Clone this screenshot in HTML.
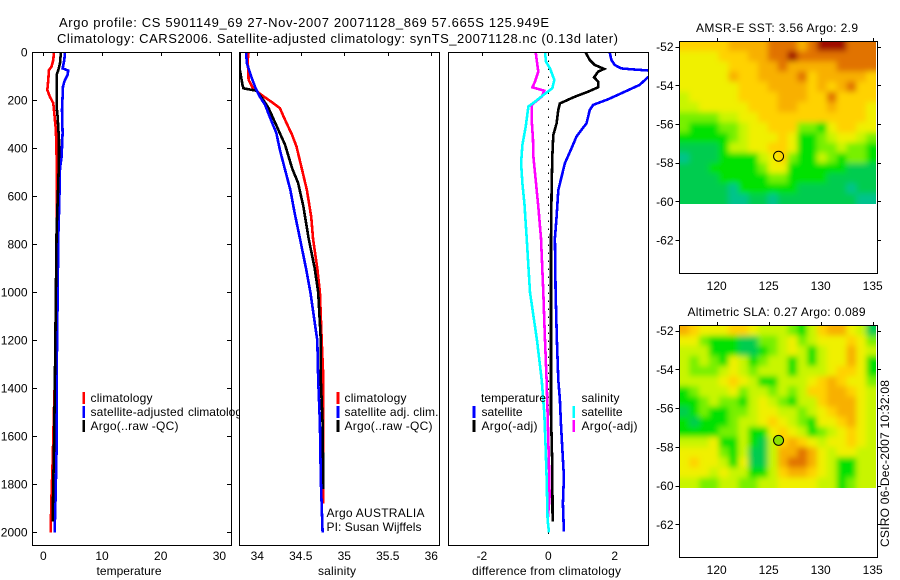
<!DOCTYPE html>
<html lang="en">
<head>
<meta charset="utf-8">
<title>Argo profile CS 5901149_69</title>
<style>
html,body{margin:0;padding:0;background:#fff;width:900px;height:580px;overflow:hidden}
svg{display:block}
text{font-family:"Liberation Sans",sans-serif;font-size:12px;fill:#000}
.frame{fill:none;stroke:#000;stroke-width:1;shape-rendering:crispEdges}
.tick{stroke:#000;stroke-width:1;shape-rendering:crispEdges}
.series{fill:none;stroke-width:2.6;stroke-linejoin:miter;shape-rendering:crispEdges}
.key{stroke-width:2.6;shape-rendering:crispEdges}
</style>
</head>
<body>
<svg id="chart" width="900" height="580" viewBox="0 0 900 580" xmlns="http://www.w3.org/2000/svg">
  <defs>
    <clipPath id="clip-temp"><rect x="33" y="53" width="198" height="492"/></clipPath>
    <clipPath id="clip-sal"><rect x="240" y="53" width="199" height="492"/></clipPath>
    <clipPath id="clip-diff"><rect x="449" y="53" width="199" height="492"/></clipPath>
    <clipPath id="clip-legend"><rect x="80" y="385" width="160" height="60"/></clipPath>
    <clipPath id="clip-sst"><rect x="679" y="41" width="197" height="163"/></clipPath>
    <clipPath id="clip-sla"><rect x="679" y="325" width="197" height="163"/></clipPath>
    <filter id="soften" x="-5%" y="-5%" width="110%" height="110%"><feGaussianBlur stdDeviation="3"/></filter>
  </defs>

  <text x="59" y="27" font-size="13" style="font-size:13px" textLength="490" lengthAdjust="spacing">Argo profile: CS 5901149_69 27-Nov-2007 20071128_869 57.665S 125.949E</text>
  <text x="57" y="43" style="font-size:13px" textLength="561" lengthAdjust="spacing">Climatology: CARS2006. Satellite-adjusted climatology: synTS_20071128.nc (0.13d later)</text>

  <g id="temp-panel"></g>
  <g id="sal-panel"></g>
  <g id="diff-panel"></g>

  <text x="129" y="575" text-anchor="middle" textLength="65" lengthAdjust="spacing">temperature</text>
  <text x="337" y="575" text-anchor="middle" textLength="38" lengthAdjust="spacing">salinity</text>
  <text x="546.5" y="575" text-anchor="middle" textLength="149" lengthAdjust="spacing">difference from climatology</text>

  <g clip-path="url(#clip-legend)">
    <line class="key" x1="83.7" x2="83.7" y1="392" y2="404" stroke="#f00"/>
    <text x="90.5" y="402" textLength="62" lengthAdjust="spacing">climatology</text>
    <line class="key" x1="83.7" x2="83.7" y1="406" y2="418" stroke="#00f"/>
    <text y="416"><tspan x="90.5" textLength="93" lengthAdjust="spacing">satellite-adjusted</tspan> <tspan x="188" textLength="60" lengthAdjust="spacing">climatology</tspan></text>
    <line class="key" x1="83.7" x2="83.7" y1="420" y2="432" stroke="#000"/>
    <text x="90.5" y="430" textLength="88" lengthAdjust="spacing">Argo(..raw -QC)</text>
  </g>

  <g>
    <line class="key" x1="338" x2="338" y1="392" y2="404" stroke="#f00"/>
    <text x="344.5" y="402" textLength="62" lengthAdjust="spacing">climatology</text>
    <line class="key" x1="338" x2="338" y1="406" y2="418" stroke="#00f"/>
    <text x="344.5" y="416" textLength="94" lengthAdjust="spacing">satellite adj. clim.</text>
    <line class="key" x1="338" x2="338" y1="420" y2="432" stroke="#000"/>
    <text x="344.5" y="430" textLength="88" lengthAdjust="spacing">Argo(..raw -QC)</text>
    <text x="326.5" y="517" textLength="98" lengthAdjust="spacing">Argo AUSTRALIA</text>
    <text x="326.5" y="531" textLength="95" lengthAdjust="spacing">PI: Susan Wijffels</text>
  </g>

  <g>
    <text x="481" y="402" textLength="65" lengthAdjust="spacing">temperature</text>
    <line class="key" x1="474" x2="474" y1="406" y2="418" stroke="#00f"/>
    <text x="481.5" y="416" textLength="41" lengthAdjust="spacing">satellite</text>
    <line class="key" x1="474" x2="474" y1="420" y2="432" stroke="#000"/>
    <text x="481.5" y="430" textLength="56" lengthAdjust="spacing">Argo(-adj)</text>
    <text x="581.5" y="402" textLength="38" lengthAdjust="spacing">salinity</text>
    <line class="key" x1="573.7" x2="573.7" y1="406" y2="418" stroke="#0ff"/>
    <text x="581.5" y="416" textLength="41" lengthAdjust="spacing">satellite</text>
    <line class="key" x1="573.7" x2="573.7" y1="420" y2="432" stroke="#f0f"/>
    <text x="581.5" y="430" textLength="56" lengthAdjust="spacing">Argo(-adj)</text>
  </g>

  <text x="696" y="32" textLength="162" lengthAdjust="spacing">AMSR-E SST: 3.56 Argo: 2.9</text>
  <text x="687.5" y="316" textLength="178" lengthAdjust="spacing">Altimetric SLA: 0.27 Argo: 0.089</text>
  <g id="sst-map"></g>
  <g id="sla-map"></g>

  <text transform="translate(889,547) rotate(-90)" x="0" y="0" textLength="167" lengthAdjust="spacing">CSIRO 06-Dec-2007 10:32:08</text>
</svg>

<script>
// ---- axis tick labels ----
const depthTicks = [0, 200, 400, 600, 800, 1000, 1200, 1400, 1600, 1800, 2000];
const tempTicks = [0, 10, 20, 30];
const salTicks = [34, 34.5, 35, 35.5, 36];
const diffTicks = [-2, 0, 2];
const lonTicks = [120, 125, 130, 135];
const latTicks = [-52, -54, -56, -58, -60, -62];

// ---- temperature panel ----
const tempClimDepth = [0, 32, 60, 74, 115, 157, 185, 212, 268, 324, 435, 740, 1000, 1200, 1400, 1500, 1700, 1850, 2000];
const tempClimValue = [1.8, 1.7, 1.4, 0.96, 0.85, 0.68, 1.13, 1.7, 1.93, 2.15, 2.27, 2.27, 2.2, 2.1, 1.93, 1.8, 1.6, 1.4, 1.25];
const tempSatDepth = [0, 32, 67, 76, 94, 122, 143, 240, 337, 435, 483, 629, 768, 1000, 1365, 1650, 1850, 2000];
const tempSatValue = [3.7, 3.57, 3.29, 4.25, 4.14, 3.57, 3.35, 3.18, 3.29, 3.12, 2.84, 2.72, 2.55, 2.45, 2.27, 2.27, 2.1, 1.93];
const tempArgoDepth = [0, 46, 74, 94, 226, 268, 365, 435, 546, 740, 1000, 1365, 1685, 1780, 1955];
const tempArgoValue = [3.0, 2.84, 2.55, 2.27, 2.27, 2.44, 2.67, 2.67, 2.55, 2.27, 2.15, 1.98, 1.8, 1.7, 1.6];

// ---- salinity panel ----
const salClimDepth = [0, 32, 115, 150, 178, 206, 233, 282, 344, 393, 483, 574, 685, 775, 900, 1000, 1200, 1365, 1880];
const salClimValue = [33.9, 33.89, 33.9, 33.95, 34.05, 34.16, 34.26, 34.32, 34.4, 34.45, 34.51, 34.57, 34.62, 34.64, 34.69, 34.72, 34.74, 34.76, 34.76];
const salSatDepth = [0, 46, 101, 150, 185, 219, 275, 337, 407, 490, 574, 671, 775, 900, 1000, 1200, 1365, 1545, 1780, 2000];
const salSatValue = [33.87, 33.88, 33.93, 33.98, 34.03, 34.09, 34.15, 34.22, 34.26, 34.32, 34.38, 34.43, 34.49, 34.56, 34.61, 34.69, 34.7, 34.72, 34.73, 34.75];
const salArgoDepth = [0, 74, 136, 150, 154, 160, 199, 233, 289, 386, 483, 546, 643, 775, 900, 1000, 1200, 1365, 1545, 1820];
const salArgoValue = [33.8, 33.8, 33.83, 33.84, 33.9, 33.99, 34.07, 34.13, 34.2, 34.32, 34.4, 34.47, 34.53, 34.59, 34.66, 34.7, 34.73, 34.73, 34.75, 34.76];

// ---- difference panel ----
const diffTempSatDepth = [0, 32, 53, 67, 71, 76, 88, 104, 136, 171, 196, 219, 240, 296, 351, 400, 462, 518, 574, 685, 775, 1000, 1200, 1365, 1448, 1545, 1643, 1768, 1880, 1997];
const diffTempSatValue = [1.85, 1.9, 2.0, 2.2, 2.5, 3.0, 3.3, 3.0, 2.75, 2.2, 1.8, 1.35, 1.25, 1.15, 0.85, 0.7, 0.5, 0.4, 0.3, 0.25, 0.2, 0.22, 0.26, 0.3, 0.35, 0.38, 0.42, 0.47, 0.44, 0.47];
const diffTempArgoDepth = [0, 32, 53, 69, 81, 104, 122, 146, 164, 185, 213, 240, 296, 344, 435, 574, 775, 1365, 1504, 1726, 1955];
const diffTempArgoValue = [1.12, 1.25, 1.4, 1.68, 1.5, 1.38, 1.5, 1.5, 1.2, 0.8, 0.35, 0.3, 0.25, 0.15, 0.12, 0.1, 0.08, 0.08, 0.08, 0.12, 0.13];
const diffSalArgoDepth = [0, 32, 81, 122, 146, 160, 185, 219, 282, 365, 435, 532, 643, 775, 1000, 1200, 1365, 1504, 1726, 1850, 1955];
const diffSalArgoValue = [-0.38, -0.35, -0.3, -0.4, -0.48, -0.12, -0.2, -0.5, -0.5, -0.46, -0.45, -0.38, -0.3, -0.22, -0.15, -0.1, -0.05, -0.02, 0.02, 0.04, -0.02];
const diffSalSatDepth = [0, 39, 67, 115, 150, 178, 206, 226, 310, 386, 462, 546, 629, 775, 1000, 1200, 1365, 1504, 1643, 1768, 1948, 2000];
const diffSalSatValue = [-0.1, -0.07, 0.05, 0.18, 0.12, -0.15, -0.4, -0.6, -0.68, -0.78, -0.82, -0.78, -0.72, -0.65, -0.55, -0.34, -0.2, -0.12, -0.08, -0.05, -0.02, 0.02];

// ---- satellite maps (colour levels 0 = coolest .. 9 = warmest) ----
const mapColors = ["#00c38c", "#00cc50", "#00e100", "#78f000", "#c8f500", "#f0f000", "#ffd200", "#f8b000", "#e17300", "#a00a00"];
const argoLon = 125.949;
const argoLat = -57.665;
const sstGrid = [
  [6,6,6,6,6,7,7,7,7,8,8,8,7,8,9,9,9,8,8,8],
  [5,5,5,5,6,6,6,7,7,8,8,9,8,8,8,8,8,8,8,8],
  [5,5,5,5,5,6,6,6,7,7,8,7,7,7,7,7,8,8,8,8],
  [5,5,5,5,5,7,6,6,7,7,7,7,8,6,7,7,7,7,7,6],
  [5,5,5,5,5,5,6,6,6,7,7,7,7,6,7,6,7,8,6,6],
  [4,5,5,5,5,5,6,6,6,6,7,7,7,6,6,8,6,6,6,6],
  [4,4,5,5,5,5,5,6,6,6,7,7,6,6,6,7,6,6,6,5],
  [3,3,3,3,4,4,5,5,6,6,6,6,6,6,6,6,6,6,6,5],
  [3,2,2,2,3,3,4,5,5,6,6,6,3,3,2,5,6,6,5,5],
  [2,2,2,2,2,3,4,5,5,5,6,5,2,2,3,4,5,5,4,3],
  [1,1,1,1,2,4,4,5,5,6,6,5,2,2,3,3,4,3,3,2],
  [0,1,1,1,2,2,2,2,4,5,6,3,2,2,4,3,2,3,3,2],
  [1,1,1,2,2,2,2,2,3,5,5,2,2,2,2,2,2,1,1,1],
  [1,1,1,1,2,2,2,2,2,3,3,2,2,2,2,1,1,1,1,1],
  [1,1,1,1,1,0,2,2,2,2,2,2,1,1,1,1,1,0,1,1],
  [1,1,1,1,1,0,0,1,1,0,1,1,1,1,1,1,1,1,0,0]
];
const slaGrid = [
  [7,6,5,5,5,6,6,5,4,4,4,3,2,4,6,7,7,5,4,1],
  [5,5,3,2,2,2,1,1,3,3,4,5,3,4,5,5,5,6,5,3],
  [4,4,4,2,2,2,1,1,2,3,4,5,4,2,4,5,5,7,5,4],
  [4,3,4,3,2,5,4,2,3,4,4,2,4,2,4,5,5,7,5,2],
  [4,3,3,3,4,5,4,3,4,4,4,2,4,4,4,5,6,6,5,2],
  [4,4,4,4,5,6,5,4,2,2,4,4,4,5,6,7,6,5,5,3],
  [2,3,4,4,4,5,3,4,4,3,4,3,4,6,6,7,7,6,5,4],
  [2,2,3,4,3,3,2,4,5,4,3,2,4,4,6,7,7,7,5,4],
  [1,2,3,2,2,3,3,4,5,5,4,4,3,4,5,6,7,7,5,4],
  [2,1,2,2,2,3,4,4,5,6,5,4,3,2,5,5,6,7,5,4],
  [2,2,2,2,3,3,4,2,2,5,6,5,4,2,3,4,5,6,5,4],
  [4,4,4,5,2,2,4,2,1,4,6,7,6,5,4,5,5,6,5,4],
  [5,5,5,5,3,2,4,1,1,4,7,7,8,7,5,4,5,5,4,4],
  [5,6,5,5,4,2,5,1,1,4,7,8,8,7,5,4,2,2,4,4],
  [5,5,5,4,5,4,4,2,2,4,6,7,7,6,5,4,2,2,4,4],
  [4,4,3,3,4,4,3,3,4,4,5,5,5,5,4,4,2,3,4,4]
];

// ---- axis functions ----
const SVGNS = "http://www.w3.org/2000/svg";
const PANEL_TOP = 52.5;
const PANEL_BOTTOM = 545.5;
function depthY(d) { return 52.3 + d * 0.24; }
function tempX(v) { return 43.3 + v * 5.87; }
function salX(v) { return 257.3 + (v - 34) * 87; }
function diffX(v) { return 548.3 + v * 33.2; }
function lonX(v) { return 716.7 + (v - 120) * 10.4; }
function sstLatY(v) { return 46.7 + (-52 - v) * 19.33; }
function slaLatY(v) { return 330.7 + (-52 - v) * 19.36; }

function svgEl(tag, attrs, parent) {
  const el = document.createElementNS(SVGNS, tag);
  for (const k in attrs) el.setAttribute(k, attrs[k]);
  parent.appendChild(el);
  return el;
}

function drawLabel(parent, x, y, label, anchor, name) {
  const t = svgEl("text", { x: x, y: y, "text-anchor": anchor }, parent);
  
  
  t.textContent = label;
}

function drawTick(parent, x1, y1, x2, y2, name) {
  const l = svgEl("line", { class: "tick", x1: x1, y1: y1, x2: x2, y2: y2 }, parent);
  
  
}

function drawSeries(parent, depths, values, xFn, color, clipId, name) {
  const pts = depths.map(function (d, i) { return xFn(values[i]).toFixed(1) + "," + depthY(d).toFixed(1); }).join(" ");
  const p = svgEl("polyline", { class: "series", points: pts, stroke: color, "clip-path": "url(#" + clipId + ")" }, parent);
  
  
}

function drawFrame(parent, left, right, top, bottom, name) {
  const r = svgEl("rect", { class: "frame", x: left, y: top, width: right - left, height: bottom - top }, parent);
  
  
}

function drawProfileAxes(parent, left, right, ticks, xFn, sideTicks) {
  drawFrame(parent, left, right, PANEL_TOP, PANEL_BOTTOM, "plot-frame");
  ticks.forEach(function (v) {
    const x = Math.round(xFn(v)) + 0.5;
    drawTick(parent, x, PANEL_TOP, x, PANEL_TOP + 3.5, "x-tick-top");
    drawLabel(parent, xFn(v), 560, String(v), "middle", "x-tick-label");
  });
  if (sideTicks) {
    depthTicks.forEach(function (d) {
      const y = Math.round(depthY(d)) + 0.5;
      drawTick(parent, left, y, left + 4.5, y, "y-tick-left");
      drawTick(parent, right - 4.5, y, right, y, "y-tick-right");
      drawLabel(parent, 27.5, depthY(d) + 4, String(d), "end", "y-tick-label");
    });
  }
}

function drawMap(root, grid, top, rows, latY, clipId, frameTop, frameBottom, dotFill, labelY) {
  const left = 679.3, right = 876;
  const nRows = grid.length, nCols = grid[0].length;
  const cw = (right - left) / nCols, ch = rows / nRows;
  const heat = svgEl("g", { "clip-path": "url(#" + clipId + ")" }, root);
  
  
  const cells = svgEl("g", { filter: "url(#soften)" }, heat);
  
  
  grid.forEach(function (row, r) {
    row.forEach(function (level, c) {
      // edge cells bleed outward so softening does not fade at the clip edge
      const x0 = left + c * cw - (c === 0 ? 14 : 0);
      const x1 = left + (c + 1) * cw + (c === nCols - 1 ? 14 : 0.5);
      const y0 = top + r * ch - (r === 0 ? 14 : 0);
      const y1 = top + (r + 1) * ch + (r === nRows - 1 ? 14 : 0.5);
      const cell = svgEl("rect", { x: x0, y: y0, width: x1 - x0, height: y1 - y0, fill: mapColors[level] }, cells);
      
      
    });
  });
  drawFrame(root, 679.5, 877.5, frameTop, frameBottom, "map-frame");
  lonTicks.forEach(function (lon) {
    const x = Math.round(lonX(lon)) + 0.5;
    drawTick(root, x, frameTop - 3.5, x, frameTop, "lon-tick");
    drawLabel(root, lonX(lon), labelY, String(lon), "middle", "lon-tick-label");
  });
  latTicks.forEach(function (lat) {
    const y = Math.round(latY(lat)) + 0.5;
    drawTick(root, 675.5, y, 679.5, y, "lat-tick-left");
    drawTick(root, 877.5, y, 881, y, "lat-tick-right");
    drawLabel(root, 673.5, latY(lat) + 4.5, String(lat), "end", "lat-tick-label");
  });
  const dot = svgEl("circle", { cx: lonX(argoLon), cy: latY(argoLat), r: 5, fill: dotFill, stroke: "#000", "stroke-width": 1 }, root);
  
  
}

// ---- build ----
const tempPanel = document.getElementById("temp-panel");
drawSeries(tempPanel, tempClimDepth, tempClimValue, tempX, "#f00", "clip-temp", "temperature-climatology-line");
drawSeries(tempPanel, tempSatDepth, tempSatValue, tempX, "#00f", "clip-temp", "temperature-satellite-line");
drawSeries(tempPanel, tempArgoDepth, tempArgoValue, tempX, "#000", "clip-temp", "temperature-argo-line");
drawProfileAxes(tempPanel, 32.5, 231.5, tempTicks, tempX, true);

const salPanel = document.getElementById("sal-panel");
drawSeries(salPanel, salClimDepth, salClimValue, salX, "#f00", "clip-sal", "salinity-climatology-line");
drawSeries(salPanel, salArgoDepth, salArgoValue, salX, "#000", "clip-sal", "salinity-argo-line");
drawSeries(salPanel, salSatDepth, salSatValue, salX, "#00f", "clip-sal", "salinity-satellite-line");
drawProfileAxes(salPanel, 239.5, 439.5, salTicks, salX, false);

const diffPanel = document.getElementById("diff-panel");
const zeroLine = svgEl("line", { x1: diffX(0), x2: diffX(0), y1: depthY(0), y2: depthY(2020), stroke: "#000", "stroke-width": 1, "stroke-dasharray": "1.5 6.5", "shape-rendering": "crispEdges" }, diffPanel);


drawSeries(diffPanel, diffTempSatDepth, diffTempSatValue, diffX, "#00f", "clip-diff", "difference-temperature-satellite-line");
drawSeries(diffPanel, diffTempArgoDepth, diffTempArgoValue, diffX, "#000", "clip-diff", "difference-temperature-argo-line");
drawSeries(diffPanel, diffSalArgoDepth, diffSalArgoValue, diffX, "#f0f", "clip-diff", "difference-salinity-argo-line");
drawSeries(diffPanel, diffSalSatDepth, diffSalSatValue, diffX, "#0ff", "clip-diff", "difference-salinity-satellite-line");
drawProfileAxes(diffPanel, 448.5, 648.5, diffTicks, diffX, false);

drawMap(document.getElementById("sst-map"), sstGrid, 41, 162.7, sstLatY, "clip-sst", 41.5, 273.5, "none", 290);
drawMap(document.getElementById("sla-map"), slaGrid, 325.5, 162.2, slaLatY, "clip-sla", 325.5, 557.5, "#8ce100", 574);
</script>
</body>
</html>
